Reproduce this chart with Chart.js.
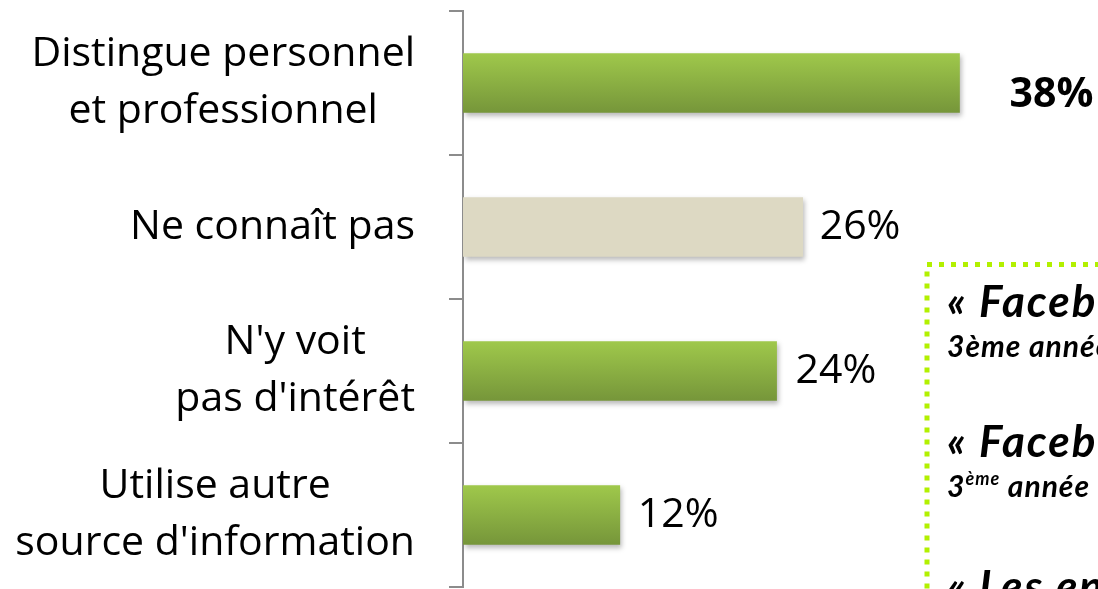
<!DOCTYPE html>
<html>
<head>
<meta charset="utf-8">
<script src="https://cdn.jsdelivr.net/npm/chart.js@4/dist/chart.umd.min.js"></script>
<style>
  body { margin: 0; background: #fff; overflow: hidden; }
  #wrap { width: 1098px; height: 589px; position: relative; }
</style>
</head>
<body>
<div id="wrap"><canvas id="myChart"></canvas></div>
<script>
const categories = [
    ['Distingue personnel', 'et professionnel'],
    ['Ne connaît pas'],
    ["N'y voit", "pas d'intérêt"],
    ['Utilise autre', "source d'information"],
];
const values = [38, 26, 24, 12];
const valueLabels = ['38%', '26%', '24%', '12%'];

// styles (kept apart from the data)
const barStyle = ['green', 'beige', 'green', 'green'];
const labelStyle = [
    { bold: true, dx: 50, dy: 12 },
    { bold: false, dx: 17, dy: 0 },
    { bold: false, dx: 19, dy: 0 },
    { bold: false, dx: 18, dy: 0 },
];

const BAR_H = 59;

function barFill(ctx) {
    const chart = ctx.chart;
    if (barStyle[ctx.dataIndex] === 'beige') return '#ddd9c3';
    if (!chart.chartArea || !chart.scales.y) return '#8db443';
    const y = chart.scales.y.getPixelForValue(ctx.dataIndex);
    const g = chart.ctx.createLinearGradient(0, y - BAR_H / 2, 0, y + BAR_H / 2);
    g.addColorStop(0, '#9fc84b');
    g.addColorStop(1, '#76963a');
    return g;
}

const barShadow = {
    id: 'barShadow',
    beforeDatasetsDraw(chart) {
        const c = chart.ctx;
        c.save();
        c.shadowColor = 'rgba(0,0,0,0.28)';
        c.shadowBlur = 5;
        c.shadowOffsetX = 2;
        c.shadowOffsetY = 3;
    },
    afterDatasetsDraw(chart) {
        chart.ctx.restore();
    },
};

// left labels: block right-aligned, lines centred inside the block
const leftLabels = {
    id: 'leftLabels',
    afterDraw(chart) {
        const c = chart.ctx;
        const yScale = chart.scales.y;
        const right = 415;
        const lineH = 57;
        c.save();
        c.font = '41px "Open Sans"';
        c.fillStyle = '#000';
        c.textAlign = 'center';
        c.textBaseline = 'middle';
        categories.forEach((lines, i) => {
            const y = yScale.getPixelForValue(i);
            const w = Math.max(...lines.map(l => c.measureText(l).width));
            const cx = right - w / 2;
            lines.forEach((l, j) => {
                c.fillText(l, cx, y + (j - (lines.length - 1) / 2) * lineH);
            });
        });
        c.restore();
    },
};

const valueText = {
    id: 'valueText',
    afterDatasetsDraw(chart) {
        const c = chart.ctx;
        const meta = chart.getDatasetMeta(0);
        c.save();
        c.fillStyle = '#000';
        c.textAlign = 'left';
        c.textBaseline = 'middle';
        meta.data.forEach((bar, i) => {
            const s = labelStyle[i];
            c.font = (s.bold ? 'bold ' : '') + '41px "Open Sans"';
            c.fillText(valueLabels[i], bar.x + s.dx, bar.y + s.dy);
        });
        c.restore();
    },
};

// dotted quote box on the right (cut off by the picture edge)
const quoteBox = {
    id: 'quoteBox',
    afterDraw(chart) {
        const c = chart.ctx;
        c.save();
        c.strokeStyle = '#b2f000';
        c.lineWidth = 5;
        c.setLineDash([5, 7]);
        c.strokeRect(927, 264.5, 400, 500);
        c.setLineDash([]);
        c.fillStyle = '#000';
        c.textBaseline = 'alphabetic';
        c.textAlign = 'left';
        const big = 'italic bold 44px Lato';
        const small = 'italic bold 30px Lato';
        c.letterSpacing = '2px';
        c.font = big;
        c.fillText('« Facebook', 947, 317);
        c.fillText('« Facebook', 947, 457);
        c.fillText('« Les en', 947, 602);
        c.letterSpacing = '1px';
        c.font = small;
        c.fillText('3ème année', 947, 357);
        c.fillText('3', 947, 497);
        let x = 947 + c.measureText('3').width;
        c.font = 'italic bold 18px Lato';
        c.fillText('ème', x, 485);
        x += c.measureText('ème').width;
        c.font = small;
        c.fillText(' année', x, 497);
        c.restore();
    },
};

const config = {
    type: 'bar',
    data: {
        labels: categories,
        datasets: [
            {
                data: values,
                backgroundColor: barFill,
                borderWidth: 0,
                barThickness: BAR_H,
            },
        ],
    },
    options: {
        indexAxis: 'y',
        responsive: true,
        maintainAspectRatio: false,
        animation: false,
        layout: { padding: { top: 11, bottom: 2, left: 0, right: 0 } },
        plugins: {
            legend: { display: false },
            tooltip: { enabled: false },
        },
        scales: {
            x: {
                display: false,
                min: 0,
                max: 48.6,
            },
            y: {
                afterFit: function (scale) {
                    scale.width = 463;
                },
                ticks: { display: false },
                grid: {
                    drawOnChartArea: false,
                    drawTicks: true,
                    tickLength: 14,
                    color: '#8c8c8c',
                    lineWidth: 2,
                },
                border: { display: true, color: '#8c8c8c', width: 2 },
            },
        },
    },
    plugins: [barShadow, valueText, leftLabels, quoteBox],
};
const myChart = new Chart(document.getElementById('myChart'), config);
</script>
</body>
</html>
